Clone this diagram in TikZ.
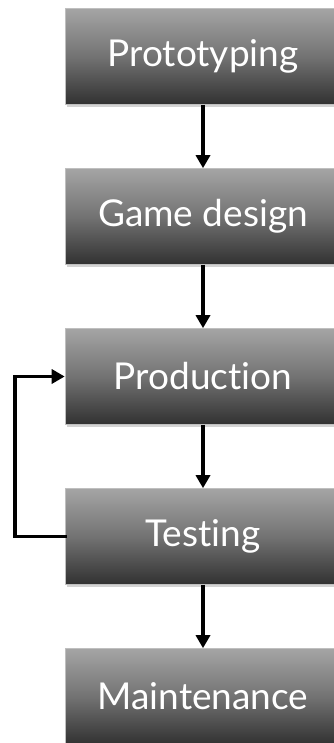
\documentclass[tikz,border=0pt]{standalone}
\usepackage{fontspec}
\setmainfont{Lato}[Ligatures={NoCommon,NoRare}]
\usetikzlibrary{positioning}
\usetikzlibrary{arrows.meta}
\usetikzlibrary{shadows}
\pgfdeclareverticalshading{phaseshade}{100bp}{color(0bp)=(black!96); color(18bp)=(black!88); color(50bp)=(black!55); color(82bp)=(black!30); color(100bp)=(black!20)}

\begin{document}
\begin{tikzpicture}[x=1pt,y=1pt,node distance=160pt,on grid,>={Triangle[width=14pt,length=13pt]},
		phase/.style={rectangle,shading=phaseshade,draw=black!25,line width=0.6pt,
			minimum width=276pt,minimum height=96pt,inner sep=0pt,
			text=white,font=\fontsize{37}{42}\selectfont,
			drop shadow={shadow xshift=1.5pt,shadow yshift=-2.5pt,opacity=.35}},
		flow/.style={->,line width=3.8pt}]
		\useasboundingbox (0,0) rectangle (334,-743);
		\node[phase]  (proto)                       at (203,-56.5) {Prototyping};
		\node[phase]  (design)  [below=of proto]    {Game design};
		\node[phase]  (prod)    [below=of design]   {Production};
		\node[phase]  (test)    [below=of prod]     {Testing};
		\node[phase]  (maint)   [below=of test]     {Maintenance};
		
		\path[flow]
		(proto) edge (design)
		(design) edge (prod)
		(prod) edge (test)
		(test) edge (maint);
		\draw[flow,line cap=rect] (test.west) -- ++(-50,0) |- (prod.west);
		\end{tikzpicture}
\end{document}
